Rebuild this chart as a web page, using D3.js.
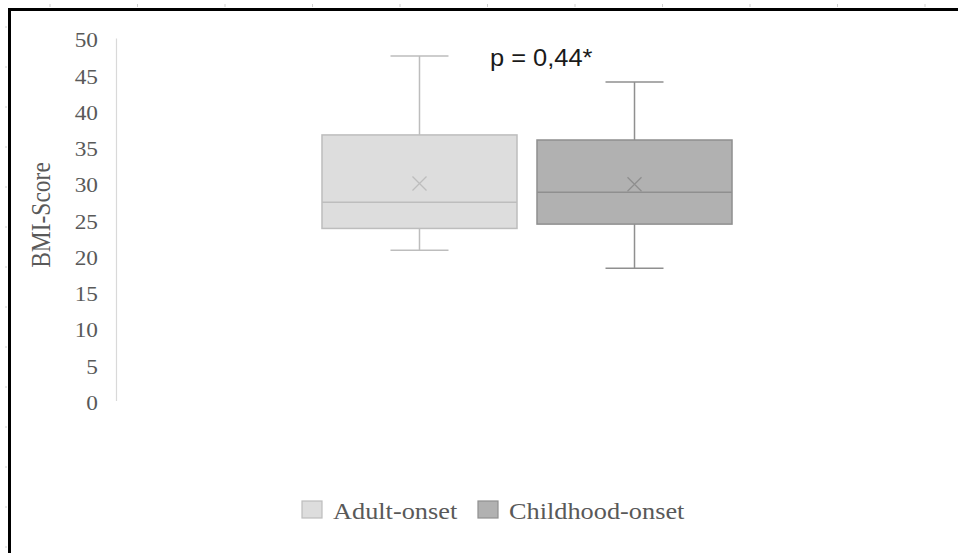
<!DOCTYPE html>
<html>
<head>
<meta charset="utf-8">
<script src="https://cdn.jsdelivr.net/npm/d3@7"></script>
<style>
  html, body { margin: 0; padding: 0; background: #fff; }
  svg { display: block; }
</style>
</head>
<body>
<svg id="chart" width="958" height="553"></svg>
<script>
// ---- data ----
const seriesNames = ["Adult-onset", "Childhood-onset"];
const whiskerMin = [20.8, 18.3];
const q1 = [23.8, 24.4];
const median = [27.4, 28.8];
const q3 = [36.7, 36.0];
const whiskerMax = [47.6, 44.0];
const means = [30.0, 29.9];
const yTicks = [0, 5, 10, 15, 20, 25, 30, 35, 40, 45, 50];
const yTitle = "BMI-Score";
const annotation = "p = 0,44*";

const fills = ["#dddddd", "#b1b1b1"];
const strokes = ["#bdbdbd", "#8f8f8f"];

const svg = d3.select("#chart");

// faint page-ruler marks outside the frame
d3.range(50, 958, 87.5).forEach(px => {
  svg.append("line").attr("x1", px).attr("x2", px).attr("y1", 4).attr("y2", 7)
    .attr("stroke", "#d0d0d0").attr("stroke-width", 1);
});
d3.range(27, 553, 40).forEach(py => {
  svg.append("line").attr("x1", 5).attr("x2", 7).attr("y1", py).attr("y2", py)
    .attr("stroke", "#d0d0d0").attr("stroke-width", 1);
});

// frame
svg.append("line").attr("x1", 8).attr("x2", 958).attr("y1", 9.5).attr("y2", 9.5)
  .attr("stroke", "#000").attr("stroke-width", 3);
svg.append("line").attr("x1", 9.5).attr("x2", 9.5).attr("y1", 8).attr("y2", 553)
  .attr("stroke", "#000").attr("stroke-width", 3);

const y = d3.scaleLinear().domain([0, 50]).range([401, 38.5]);
const x = d3.scaleBand().domain(seriesNames).range([116, 938])
  .paddingInner(0.093).paddingOuter(0.958);

// y axis line
svg.append("line").attr("x1", 116.5).attr("x2", 116.5)
  .attr("y1", y(50)).attr("y2", y(0))
  .attr("stroke", "#d9d9d9").attr("stroke-width", 1.2);

// tick labels
const tickG = svg.append("g");
yTicks.forEach(t => {
  tickG.append("g").attr("transform", `translate(98,${y(t) + 1.5}) scale(1.06,1)`)
    .append("text")
    .attr("text-anchor", "end").attr("dominant-baseline", "central")
    .attr("font-family", "Liberation Serif, Times New Roman, serif")
    .attr("font-size", 22).attr("fill", "#595959")
    .text(t);
});

// y title
svg.append("g").attr("transform", `translate(40,215) scale(1.15,1) rotate(-90)`)
  .append("text").attr("text-anchor", "middle").attr("dominant-baseline", "central")
  .attr("font-family", "Liberation Serif, Times New Roman, serif")
  .attr("font-size", 23.5).attr("fill", "#595959")
  .text(yTitle);

// boxes
const bw = x.bandwidth();
const capW = 58;
seriesNames.forEach((s, i) => {
  const g = svg.append("g");
  const cx = x(s) + bw / 2;
  const col = strokes[i];
  g.append("line").attr("x1", cx).attr("x2", cx).attr("y1", y(whiskerMax[i])).attr("y2", y(q3[i]))
    .attr("stroke", col).attr("stroke-width", 1.5);
  g.append("line").attr("x1", cx).attr("x2", cx).attr("y1", y(q1[i])).attr("y2", y(whiskerMin[i]))
    .attr("stroke", col).attr("stroke-width", 1.5);
  g.append("line").attr("x1", cx - capW / 2).attr("x2", cx + capW / 2)
    .attr("y1", y(whiskerMax[i])).attr("y2", y(whiskerMax[i]))
    .attr("stroke", col).attr("stroke-width", 1.5);
  g.append("line").attr("x1", cx - capW / 2).attr("x2", cx + capW / 2)
    .attr("y1", y(whiskerMin[i])).attr("y2", y(whiskerMin[i]))
    .attr("stroke", col).attr("stroke-width", 1.5);
  g.append("rect").attr("x", x(s)).attr("y", y(q3[i]))
    .attr("width", bw).attr("height", y(q1[i]) - y(q3[i]))
    .attr("fill", fills[i]).attr("stroke", col).attr("stroke-width", 1.5);
  g.append("line").attr("x1", x(s)).attr("x2", x(s) + bw)
    .attr("y1", y(median[i])).attr("y2", y(median[i]))
    .attr("stroke", col).attr("stroke-width", 1.5);
  const my = y(means[i]), r = 7;
  g.append("path")
    .attr("d", `M${cx - r},${my - r}L${cx + r},${my + r}M${cx - r},${my + r}L${cx + r},${my - r}`)
    .attr("stroke", col).attr("stroke-width", 1.3).attr("fill", "none");
});

// annotation
svg.append("g").attr("transform", `translate(490,66) scale(1.06,1)`)
  .append("text")
  .attr("font-family", "Liberation Sans, Arial, sans-serif")
  .attr("font-size", 24).attr("fill", "#1a1a1a")
  .text(annotation);

// legend
const legendX = [302, 478];
seriesNames.forEach((s, i) => {
  svg.append("rect").attr("x", legendX[i]).attr("y", 501)
    .attr("width", 20).attr("height", 17)
    .attr("fill", fills[i]).attr("stroke", strokes[i]).attr("stroke-width", 1.2);
  svg.append("g").attr("transform", `translate(${legendX[i] + 31},519) scale(1.12,1)`)
    .append("text")
    .attr("font-family", "Liberation Serif, Times New Roman, serif")
    .attr("font-size", 23.5).attr("fill", "#595959")
    .text(s);
});
</script>
</body>
</html>
